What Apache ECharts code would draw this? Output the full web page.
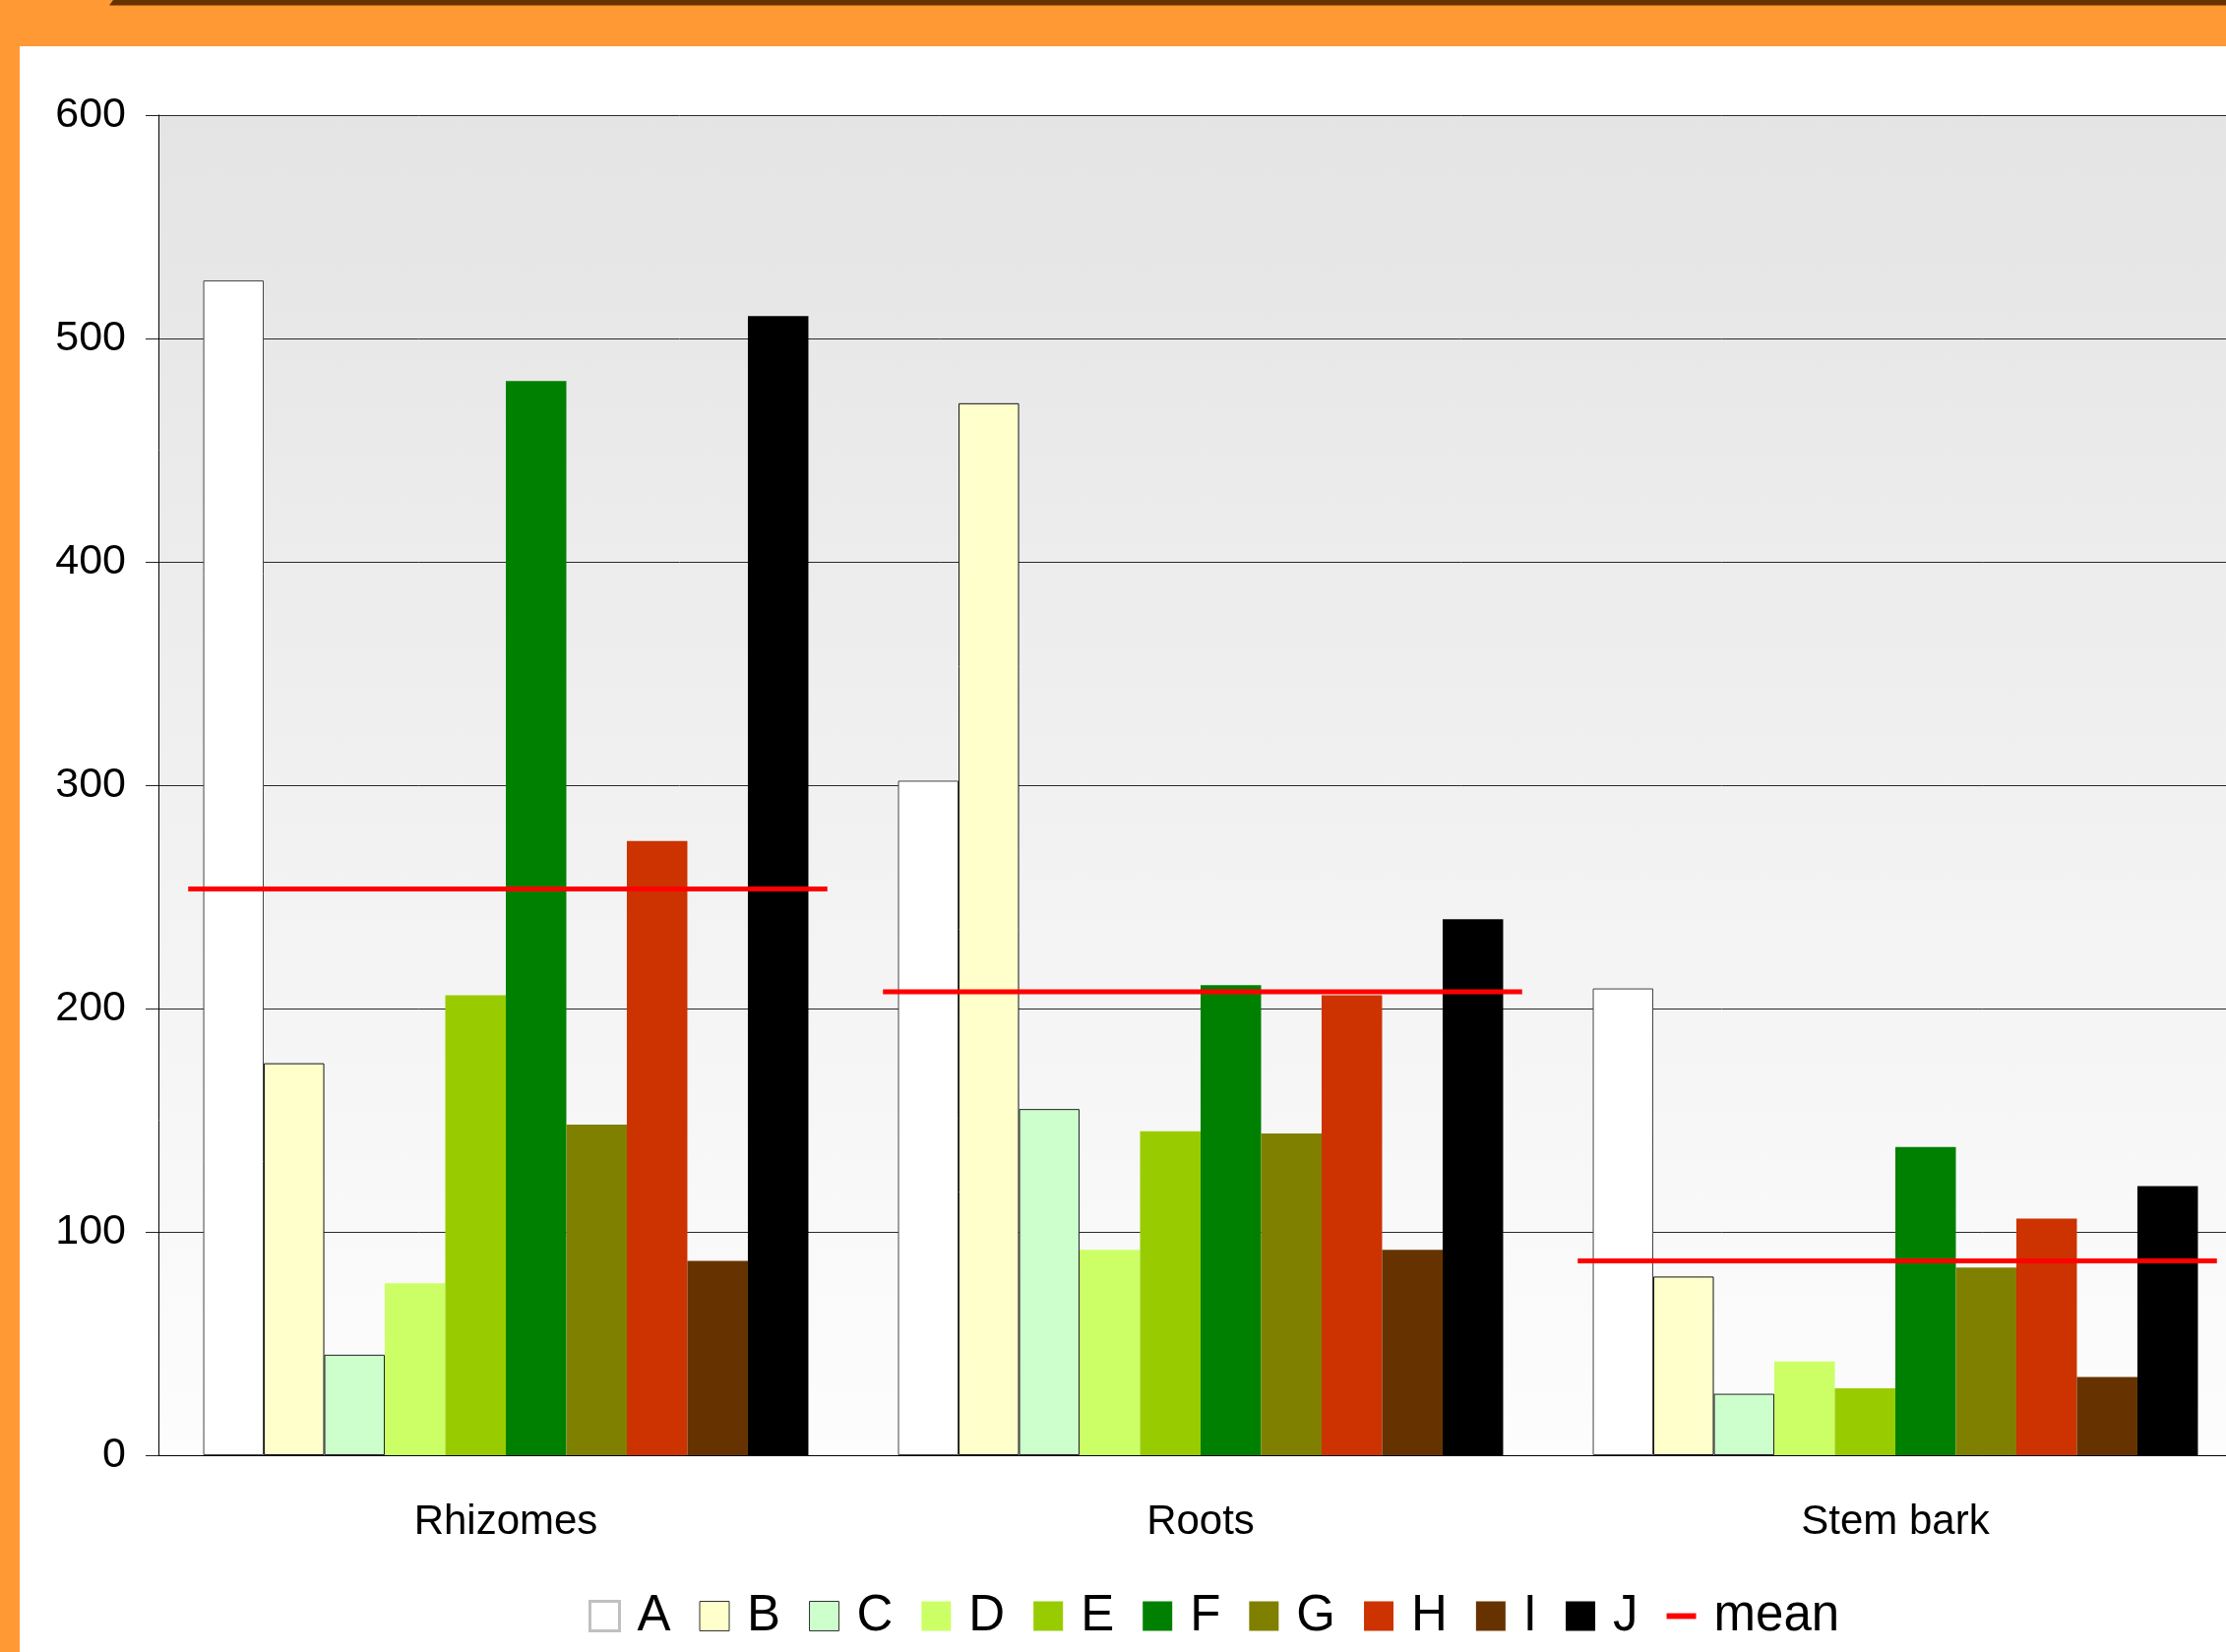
<!DOCTYPE html>
<html>
<head>
<meta charset="utf-8">
<script src="https://cdn.jsdelivr.net/npm/echarts@6/dist/echarts.min.js"></script>
<style>
  html, body { margin: 0; padding: 0; overflow: hidden; background: #fff; }
  #chart { position: absolute; left: 0; top: 0; width: 2300px; height: 1679px; }
</style>
</head>
<body>
<div id="chart"></div>
<script>
// categories and values
var categories = ['Rhizomes', 'Roots', 'Stem bark'];
var seriesNames = ['A', 'B', 'C', 'D', 'E', 'F', 'G', 'H', 'I', 'J'];
var valuesA = [526, 302, 209];
var valuesB = [175.5, 471, 80];
var valuesC = [45, 155, 27.5];
var valuesD = [77, 92, 42];
var valuesE = [206, 145, 30];
var valuesF = [481, 210.5, 138];
var valuesG = [148, 144, 84];
var valuesH = [275, 206, 106];
var valuesI = [87, 92, 35];
var valuesJ = [510, 240, 120.5];
var means = [253.5, 207.5, 87];
var yTicks = [0, 100, 200, 300, 400, 500, 600];

var seriesValues = [valuesA, valuesB, valuesC, valuesD, valuesE, valuesF, valuesG, valuesH, valuesI, valuesJ];
var colors = ['#ffffff', '#ffffcc', '#ccffcc', '#ccff66', '#99cc00', '#008000', '#808000', '#cc3300', '#663300', '#000000'];
// outlines only on the pale bars
var borders = [
    { borderColor: '#444', borderWidth: 1 },
    { borderColor: '#111', borderWidth: 1 },
    { borderColor: '#222', borderWidth: 1 },
    {}, {}, {}, {}, {}, {}, {}
];

var chart = echarts.init(document.getElementById('chart'));

var series = seriesNames.map(function (n, i) {
    var st = Object.assign({ color: colors[i] }, borders[i]);
    return {
        name: n,
        type: 'bar',
        data: seriesValues[i],
        barGap: '0%',
        barCategoryGap: '12.9%',
        itemStyle: st
    };
});

series.push({
    name: 'mean',
    type: 'custom',
    data: categories.map(function (c, i) { return [i, means[i]]; }),
    encode: { x: 0, y: 1 },
    itemStyle: { color: '#ff0000' },
    z: 5,
    renderItem: function (params, api) {
        var p = api.coord([api.value(0), api.value(1)]);
        var w = api.size([1, 0])[0] * 0.92;
        return {
            type: 'line',
            shape: { x1: p[0] - w / 2 + 2, y1: p[1], x2: p[0] + w / 2 + 2, y2: p[1] },
            style: { stroke: '#ff0000', lineWidth: 5 }
        };
    }
});

var legendData = seriesNames.map(function (n, i) {
    var st = { color: colors[i], borderWidth: 0 };
    if (i == 0) { st.borderColor = '#c0c0c0'; st.borderWidth = 3; }
    if (i == 1 || i == 2) { st.borderColor = '#333'; st.borderWidth = 1; }
    return { name: n, itemStyle: st };
});
legendData.push({ name: 'mean', icon: 'path://M0,0H36V7H0Z', itemStyle: { color: '#ff0000' } });

var option = {
    animation: false,
    textStyle: { fontFamily: 'Liberation Sans, Arial, sans-serif' },
    graphic: [
        { type: 'rect', shape: { x: 0, y: 0, width: 2300, height: 47 }, style: { fill: '#ff9933' }, silent: true },
        { type: 'rect', shape: { x: 0, y: 0, width: 20, height: 1679 }, style: { fill: '#ff9933' }, silent: true },
        { type: 'polygon', shape: { points: [[115, 0], [2300, 0], [2300, 5.5], [111, 5.5]] }, style: { fill: '#663300' }, silent: true }
    ],
    grid: {
        left: 161, right: 21, top: 117, bottom: 200,
        show: true,
        borderWidth: 0,
        backgroundColor: {
            type: 'linear', x: 0, y: 0, x2: 0, y2: 1,
            colorStops: [{ offset: 0, color: '#e4e4e4' }, { offset: 1, color: '#fdfdfd' }]
        }
    },
    legend: {
        data: legendData,
        left: 598,
        top: 1617,
        padding: 0,
        icon: 'rect',
        itemWidth: 30,
        itemHeight: 30,
        itemGap: 29,
        textStyle: { fontSize: 51, color: '#000', lineHeight: 50, padding: [0, 0, 0, 13] }
    },
    xAxis: {
        type: 'category',
        data: categories,
        axisLine: { lineStyle: { color: '#000', width: 1 } },
        axisTick: { length: 13, lineStyle: { color: '#222' } },
        axisLabel: { fontSize: 42, color: '#000', margin: 47, lineHeight: 42 }
    },
    yAxis: {
        type: 'value',
        min: yTicks[0],
        max: yTicks[yTicks.length - 1],
        interval: 100,
        axisLine: { show: true, lineStyle: { color: '#000', width: 1 } },
        axisTick: { show: true, length: 13, lineStyle: { color: '#222' } },
        axisLabel: { fontSize: 43, color: '#000', margin: 33 },
        splitLine: { lineStyle: { color: '#2a2a2a', width: 1 } }
    },
    series: series
};

chart.setOption(option);
</script>
</body>
</html>
